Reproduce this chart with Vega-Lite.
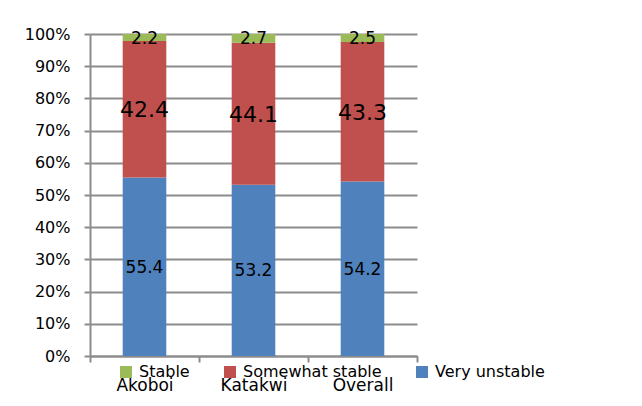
{
  "$schema": "https://vega.github.io/schema/vega-lite/v6.json",
  "width": 327,
  "height": 322,
  "autosize": {"type": "none"},
  "padding": {"left": 90, "top": 34, "right": 225, "bottom": 50},
  "background": "white",
  "config": {
    "view": {"stroke": null},
    "font": "DejaVu Sans",
    "axisY": {
      "title": null,
      "values": [0, 0.1, 0.2, 0.3, 0.4, 0.5, 0.6, 0.7, 0.8, 0.9, 1],
      "format": ".0%",
      "labelFontSize": 16,
      "labelFont": "DejaVu Sans",
      "labelColor": "black",
      "labelPadding": 14,
      "tickSize": 6,
      "tickColor": "#8c8c8c",
      "tickWidth": 2,
      "domainColor": "#8c8c8c",
      "domainWidth": 2,
      "grid": true,
      "gridColor": "#8c8c8c",
      "gridWidth": 2
    }
  },
  "data": {
    "values": [
      {"site": "Akoboi", "series": "Very unstable", "value": 55.4},
      {"site": "Akoboi", "series": "Somewhat stable", "value": 42.4},
      {"site": "Akoboi", "series": "Stable", "value": 2.2},
      {"site": "Katakwi", "series": "Very unstable", "value": 53.2},
      {"site": "Katakwi", "series": "Somewhat stable", "value": 44.1},
      {"site": "Katakwi", "series": "Stable", "value": 2.7},
      {"site": "Overall", "series": "Very unstable", "value": 54.2},
      {"site": "Overall", "series": "Somewhat stable", "value": 43.3},
      {"site": "Overall", "series": "Stable", "value": 2.5}
    ]
  },
  "encoding": {
    "x": {
      "field": "site",
      "type": "nominal",
      "sort": ["Akoboi", "Katakwi", "Overall"],
      "scale": {"paddingInner": 0, "paddingOuter": 0},
      "axis": {
        "title": null,
        "labelAngle": 0,
        "labelFontSize": 17,
        "labelFont": "DejaVu Sans",
        "labelColor": "black",
        "labelPadding": 15,
        "tickBand": "extent",
        "tickSize": 6,
        "tickColor": "#8c8c8c",
        "tickWidth": 2,
        "domainColor": "#8c8c8c",
        "domainWidth": 2,
        "grid": false
      }
    },
    "color": {
      "field": "series",
      "type": "nominal",
      "scale": {
        "domain": ["Stable", "Somewhat stable", "Very unstable"],
        "range": ["#9BBB59", "#C0504D", "#4F81BD"]
      },
      "legend": {
        "orient": "none",
        "legendX": 28,
        "legendY": 330,
        "direction": "horizontal",
        "title": null,
        "symbolType": "square",
        "symbolSize": 144,
        "symbolStrokeWidth": 0,
        "labelFontSize": 16,
        "labelFont": "DejaVu Sans",
        "labelColor": "black",
        "columnPadding": 32,
        "labelOffset": 5,
        "padding": 0
      }
    },
    "order": {"field": "value", "type": "quantitative", "sort": "descending"}
  },
  "layer": [
    {
      "mark": {"type": "bar", "width": {"band": 0.4}},
      "encoding": {
        "y": {"field": "value", "type": "quantitative", "stack": "normalize"}
      }
    },
    {
      "mark": {"type": "text", "baseline": "middle", "font": "DejaVu Sans", "dy": 1},
      "encoding": {
        "y": {
          "field": "value",
          "type": "quantitative",
          "stack": "normalize",
          "bandPosition": 0.5
        },
        "text": {"field": "value", "type": "quantitative", "format": ".1f"},
        "fill": {"value": "black"},
        "size": {
          "condition": {"test": "datum.series === 'Somewhat stable'", "value": 22},
          "value": 17
        }
      }
    }
  ]
}
